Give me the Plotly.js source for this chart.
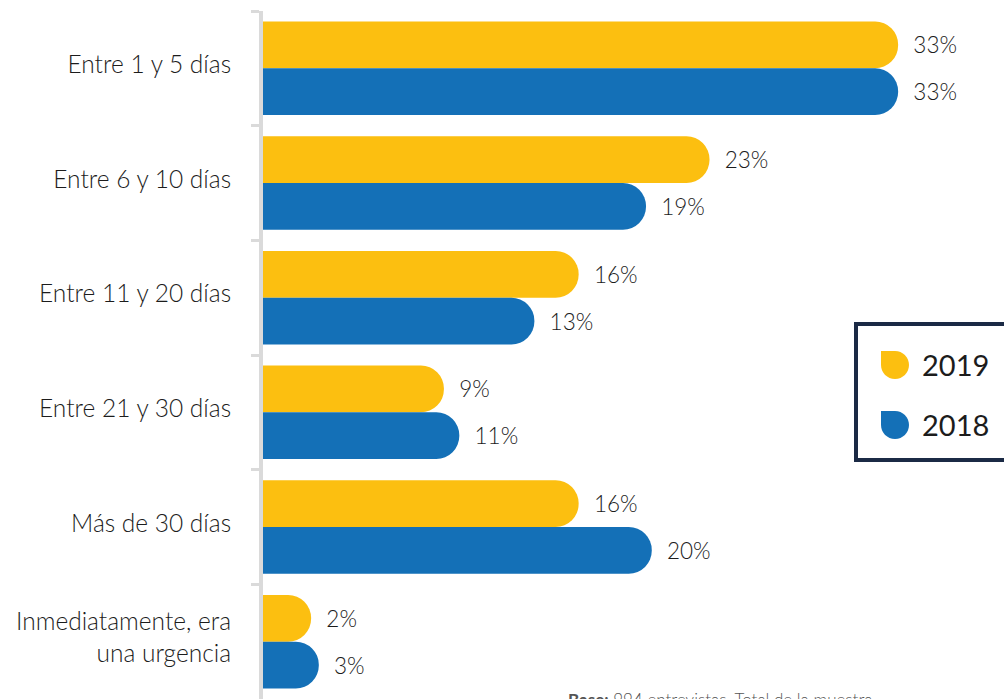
<!DOCTYPE html>
<html>
<head>
<meta charset="utf-8">
<script src="https://cdn.plot.ly/plotly-3.0.1.min.js"></script>
<style>html,body{margin:0;padding:0;background:#fff;overflow:hidden}</style>
</head>
<body>
<div id="chart" style="width:1004px;height:699px"></div>
<script>
// ---- data ----
const categories = [
  "Entre 1 y 5 días",
  "Entre 6 y 10 días",
  "Entre 11 y 20 días",
  "Entre 21 y 30 días",
  "Más de 30 días",
  "Inmediatamente, era<br>una urgencia"
];
const seriesNames = ["2019", "2018"];
const values2019 = [33.0, 23.2, 16.4, 9.4, 16.4, 2.5];
const values2018 = [33.0, 19.9, 14.1, 10.2, 20.2, 2.9];
const labels2019 = ["33%", "23%", "16%", "9%", "16%", "2%"];
const labels2018 = ["33%", "19%", "13%", "11%", "20%", "3%"];
const footnoteBold = "Base:";
const footnoteText = " 994 entrevistas. Total de la muestra";

// ---- style ----
const YELLOW = "#FCBF10";
const BLUE = "#1470B7";
const NAVY = "#1B2A45";
const FONT = "Lato, 'Open Sans', sans-serif";
const TXT = "#1c1c1c";
const W = 1004, H = 699, ML = 263, MT = 11, MR = 0, MB = 0;
const pw = W - ML - MR, ph = H - MT - MB;
const px = x => (x - ML) / pw;
const py = y => (H - MB - y) / ph;
const pad = "\u00A0\u00A0";

function barTrace(name, vals, labels, color) {
  return {
    type: "bar", orientation: "h", name: name,
    y: categories, x: vals,
    text: labels.map(l => pad + l),
    textposition: "outside",
    cliponaxis: false,
    constraintext: "none",
    textfont: {family: FONT, size: 22.5, color: TXT, weight: 300},
    marker: {color: color, cornerradius: "50%", line: {width: 0}},
    hoverinfo: "skip"
  };
}

const traces = [
  barTrace(seriesNames[0], values2019, labels2019, YELLOW),
  barTrace(seriesNames[1], values2018, labels2018, BLUE)
];

// legend (drawn as decor)
function dropPath(x, y, s) {
  const r = s / 2, k = 0.5523 * r;
  const P = (a, b) => px(a) + "," + py(b);
  return "M" + P(x, y) + " L" + P(x + r, y) +
    " C" + P(x + r + k, y) + " " + P(x + s, y + r - k) + " " + P(x + s, y + r) +
    " C" + P(x + s, y + r + k) + " " + P(x + r + k, y + s) + " " + P(x + r, y + s) +
    " C" + P(x + r - k, y + s) + " " + P(x, y + r + k) + " " + P(x, y + r) + " Z";
}

const shapes = [
  {type: "rect", xref: "paper", yref: "paper",
   x0: px(856), x1: px(1012), y0: py(460), y1: py(324),
   line: {color: NAVY, width: 4}, fillcolor: "rgba(0,0,0,0)", layer: "above"},
  {type: "path", xref: "paper", yref: "paper", path: dropPath(881, 351, 28),
   fillcolor: YELLOW, line: {width: 0}},
  {type: "path", xref: "paper", yref: "paper", path: dropPath(881, 411, 28),
   fillcolor: BLUE, line: {width: 0}}
];

const annotations = [
  {xref: "paper", yref: "paper", x: px(920), y: py(364), xanchor: "left", yanchor: "middle",
   text: seriesNames[0], showarrow: false, font: {family: FONT, size: 29, color: TXT, weight: 400}},
  {xref: "paper", yref: "paper", x: px(920), y: py(424), xanchor: "left", yanchor: "middle",
   text: seriesNames[1], showarrow: false, font: {family: FONT, size: 29, color: TXT, weight: 400}},
  {xref: "paper", yref: "paper", x: px(566), y: py(687), xanchor: "left", yanchor: "top",
   text: "<b>" + footnoteBold + "</b>" + footnoteText, showarrow: false,
   font: {family: FONT, size: 17, color: "#555", weight: 300}}
];

const layout = {
  width: W, height: H,
  margin: {l: ML, r: MR, t: MT, b: MB, pad: 0},
  paper_bgcolor: "#fff", plot_bgcolor: "#fff",
  barmode: "group", bargap: 0.185, bargroupgap: 0,
  showlegend: false,
  font: {family: FONT, color: TXT},
  xaxis: {range: [0, 38.5], visible: false, fixedrange: true},
  yaxis: {
    type: "category", range: [5.5, -0.5],
    showline: true, linecolor: "#DADADA", linewidth: 4,
    ticks: "outside", tickson: "boundaries", ticklen: 8, tickwidth: 3, tickcolor: "#DADADA",
    showgrid: false, zeroline: false,
    ticklabelstandoff: 23,
    ticklabelshift: 4,
    tickfont: {family: FONT, size: 24.5, color: TXT, weight: 300},
    fixedrange: true
  },
  shapes: shapes,
  annotations: annotations
};

Plotly.newPlot("chart", traces, layout, {staticPlot: true, displayModeBar: false});
</script>
</body>
</html>
